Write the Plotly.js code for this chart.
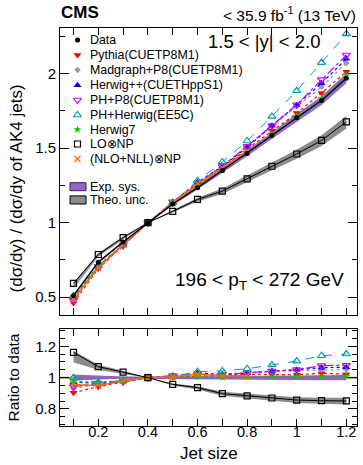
<!DOCTYPE html>
<html>
<head>
<meta charset="utf-8">
<script src="https://cdn.plot.ly/plotly-3.0.1.min.js"></script>
<style>html,body{margin:0;padding:0;background:#fff;}</style>
</head>
<body>
<div id="chart" style="width:363px;height:465px;"></div>
<script>
// ---------- data ----------
const jetSize = [0.1, 0.2, 0.3, 0.4, 0.5, 0.6, 0.7, 0.8, 0.9, 1.0, 1.1, 1.2];
const jetSizeNLO = [0.1, 0.2, 0.3, 0.4, 0.5, 0.6, 0.7, 0.8];
const dataVal = [0.51, 0.735, 0.87, 1.0, 1.125, 1.235, 1.35, 1.465, 1.585, 1.705, 1.82, 1.97];
const expSysRel = [0.02, 0.012, 0.007, 0.006, 0.008, 0.01, 0.012, 0.013, 0.014, 0.015, 0.016, 0.017];
// ratios to data
const ratioPythia = [0.904, 0.942, 0.972, 1.0, 1.005, 1.01, 1.017, 1.02, 1.02, 1.018, 1.028, 1.022];
const ratioMadgraph = [0.93, 0.96, 0.975, 1.0, 1.01, 1.02, 1.025, 1.03, 1.04, 1.045, 1.05, 1.052];
const ratioHerwigpp = [0.97, 0.965, 0.978, 1.0, 1.01, 1.03, 1.02, 1.028, 1.042, 1.05, 1.064, 1.066];
const ratioPHP8 = [0.942, 0.963, 0.974, 1.0, 1.013, 1.022, 1.021, 1.032, 1.042, 1.051, 1.077, 1.079];
const ratioPHHerwig = [1.0, 0.97, 0.979, 1.0, 1.009, 1.038, 1.043, 1.057, 1.081, 1.106, 1.14, 1.151];
const ratioHerwig7 = [0.975, 0.972, 0.98, 1.0, 1.003, 1.01, 1.002, 1.005, 1.006, 1.006, 1.007, 1.008];
const ratioLO = [1.162, 1.07, 1.035, 1.0, 0.957, 0.936, 0.898, 0.883, 0.87, 0.857, 0.853, 0.851];
const theoUpRel = [0.008, 0.012, 0.008, 0.0, 0.006, 0.01, 0.014, 0.016, 0.018, 0.02, 0.022, 0.024];
const theoDownRel = [0.055, 0.02, 0.012, 0.0, 0.008, 0.012, 0.016, 0.018, 0.02, 0.022, 0.024, 0.026];
const ratioNLO = [0.957, 0.949, 0.979, 1.0, 1.006, 1.021, 1.012, 1.012];

const legendNames = ["Data", "Pythia(CUETP8M1)", "Madgraph+P8(CUETP8M1)", "Herwig++(CUETHppS1)",
  "PH+P8(CUETP8M1)", "PH+Herwig(EE5C)", "Herwig7", "LO\u2297NP", "(NLO+NLL)\u2297NP"];
const bandNames = ["Exp. sys.", "Theo. unc."];

// ---------- styles ----------
const FONT = "Liberation Sans, Arial, Helvetica, sans-serif";
const styles = [
  {color: "#000000", symbol: "circle", size: 5, dash: "solid", width: 1.2},
  {color: "#ff0000", symbol: "triangle-down", size: 7, dash: "dot", width: 1.2},
  {color: "#9a9a9a", symbol: "diamond", size: 5, dash: "dot", width: 1.2},
  {color: "#0000ff", symbol: "triangle-up", size: 7, dash: "dot", width: 1.2},
  {color: "#cc00ff", symbol: "triangle-down-open", size: 7, dash: "dashdot", width: 1.2},
  {color: "#00a0a0", symbol: "triangle-up-open", size: 7, dash: "dash", width: 1},
  {color: "#00cc00", symbol: "star", size: 6, dash: "dot", width: 1.2},
  {color: "#000000", symbol: "square-open", size: 6, dash: "solid", width: 1},
  {color: "#ff6a00", symbol: "x-thin-open", size: 6, dash: "solid", width: 1.5}
];
const expFill = "rgba(140,95,195,0.95)";
const theoFill = "rgba(120,120,120,0.85)";

const mul = (a, b) => a.map((v, i) => v * b[i]);
const band = (x, lo, hi) => ({x: x.concat(x.slice().reverse()), y: hi.concat(lo.slice().reverse())});

const traces = [];
// top panel bands
const expB = band(jetSize, dataVal.map((v, i) => v * (1 - expSysRel[i])), dataVal.map((v, i) => v * (1 + expSysRel[i])));
traces.push({x: expB.x, y: expB.y, xaxis: "x", yaxis: "y", mode: "lines", fill: "toself", fillcolor: expFill, line: {width: 0}, hoverinfo: "skip", showlegend: false});
const loVal = mul(dataVal, ratioLO);
const theoB = band(jetSize, loVal.map((v, i) => v * (1 - theoDownRel[i])), loVal.map((v, i) => v * (1 + theoUpRel[i])));
traces.push({x: theoB.x, y: theoB.y, xaxis: "x", yaxis: "y", mode: "lines", fill: "toself", fillcolor: theoFill, line: {width: 0}, hoverinfo: "skip", showlegend: false});
// ratio panel bands
const expR = band(jetSize, expSysRel.map(e => 1 - e), expSysRel.map(e => 1 + e));
traces.push({x: expR.x, y: expR.y, xaxis: "x2", yaxis: "y2", mode: "lines", fill: "toself", fillcolor: expFill, line: {width: 0}, hoverinfo: "skip", showlegend: false});
const theoR = band(jetSize, ratioLO.map((v, i) => v * (1 - theoDownRel[i])), ratioLO.map((v, i) => v * (1 + theoUpRel[i])));
traces.push({x: theoR.x, y: theoR.y, xaxis: "x2", yaxis: "y2", mode: "lines", fill: "toself", fillcolor: theoFill, line: {width: 0}, hoverinfo: "skip", showlegend: false});

function series(idx, xs, ratio) {
  const s = styles[idx];
  const open = s.symbol.indexOf("open") >= 0;
  const mk = {symbol: s.symbol, size: s.size, color: s.color, line: {color: s.color, width: open ? 1.2 : 0}};
  const topY = ratio ? mul(dataVal.slice(0, xs.length), ratio) : dataVal;
  traces.push({x: xs, y: topY, xaxis: "x", yaxis: "y", mode: "lines+markers", name: legendNames[idx],
    line: {color: s.color, dash: s.dash, width: s.width}, marker: mk, showlegend: false});
  if (ratio) {
    traces.push({x: xs, y: ratio, xaxis: "x2", yaxis: "y2", mode: "lines+markers", name: legendNames[idx],
      line: {color: s.color, dash: s.dash, width: s.width}, marker: mk, showlegend: false});
  }
}
series(1, jetSize, ratioPythia);
series(2, jetSize, ratioMadgraph);
series(3, jetSize, ratioHerwigpp);
series(4, jetSize, ratioPHP8);
series(6, jetSize, ratioHerwig7);
series(5, jetSize, ratioPHHerwig);
series(8, jetSizeNLO, ratioNLO);
series(7, jetSize, ratioLO);
series(0, jetSize, null);

// ---------- manual legend (overlay axes in pixel units) ----------
const legRowY = [40, 55, 70, 85.3, 100, 115, 129.5, 144, 159];
const legMarkX = 77.5, legTextX = 88;
legendNames.forEach((n, i) => {
  const s = styles[i];
  const open = s.symbol.indexOf("open") >= 0;
  traces.push({x: [legMarkX], y: [legRowY[i]], xaxis: "x3", yaxis: "y3", mode: "markers", hoverinfo: "skip", showlegend: false,
    marker: {symbol: s.symbol, size: s.size, color: s.color, line: {color: s.color, width: open ? 1.2 : 0}}});
});

const annotations = [];
legendNames.forEach((n, i) => {
  annotations.push({xref: "x3", yref: "y3", x: legTextX, y: legRowY[i], xanchor: "left", yanchor: "middle",
    text: n, showarrow: false, font: {family: FONT, size: 12.4, color: "#000"}});
});
const bandRowY = [186.7, 199.9];
bandNames.forEach((n, i) => {
  annotations.push({xref: "x3", yref: "y3", x: legTextX, y: bandRowY[i], xanchor: "left", yanchor: "middle",
    text: n, showarrow: false, font: {family: FONT, size: 12.4, color: "#000"}});
});
annotations.push(
  {xref: "paper", yref: "paper", x: -0.003, y: 1.0397, xanchor: "left", yanchor: "middle", showarrow: false,
    text: "<b>CMS</b>", font: {family: FONT, size: 17, color: "#000"}},
  {xref: "paper", yref: "paper", x: 1.004, y: 1.035, xanchor: "right", yanchor: "middle", showarrow: false,
    text: "&lt; 35.9 fb<sup>-1</sup> (13 TeV)", font: {family: FONT, size: 15.5, color: "#000"}},
  {xref: "x3", yref: "y3", x: 263.5, y: 41.8, xanchor: "center", yanchor: "middle", showarrow: false,
    text: "1.5 &lt; |y| &lt; 2.0", font: {family: FONT, size: 18.5, color: "#000"}},
  {xref: "x3", yref: "y3", x: 259, y: 280.5, xanchor: "center", yanchor: "middle", showarrow: false,
    text: "196 &lt; p<sub>T</sub> &lt; 272 GeV", font: {family: FONT, size: 19, color: "#000"}},
  {xref: "paper", yref: "paper", x: -0.145, y: 0.5967, xanchor: "center", yanchor: "middle", showarrow: false, textangle: -90,
    text: "(d\u03c3/dy) / (d\u03c3/dy of AK4 jets)", font: {family: FONT, size: 17, color: "#000"}},
  {xref: "paper", yref: "paper", x: -0.155, y: 0.1219, xanchor: "center", yanchor: "middle", showarrow: false, textangle: -90,
    text: "Ratio to data", font: {family: FONT, size: 15.5, color: "#000"}},
  {xref: "paper", yref: "paper", x: 0.5, y: -0.068, xanchor: "center", yanchor: "middle", showarrow: false,
    text: "Jet size", font: {family: FONT, size: 17, color: "#000"}}
);

const shapes = [
  {type: "rect", xref: "x3", yref: "y3", x0: 70, x1: 86, y0: 182.7, y1: 190.7, fillcolor: expFill, line: {color: "#3a1a5a", width: 1}},
  {type: "rect", xref: "x3", yref: "y3", x0: 70, x1: 86, y0: 195.9, y1: 204, fillcolor: theoFill, line: {color: "#000", width: 1}},
  {type: "line", xref: "x2 domain", yref: "y2", x0: 0, x1: 1, y0: 1, y1: 1, line: {color: "#a09c2a", width: 2}, layer: "below"}
];

const axisCommon = {showline: true, linecolor: "#000", linewidth: 1, mirror: "ticks", ticks: "inside", tickcolor: "#000",
  showgrid: false, zeroline: false, tickfont: {family: FONT, size: 15, color: "#000"}};

const layout = {
  width: 363, height: 465,
  margin: {l: 60, r: 6, t: 28, b: 39},
  paper_bgcolor: "#fff", plot_bgcolor: "#fff",
  showlegend: false,
  font: {family: FONT, color: "#000"},
  xaxis: Object.assign({}, axisCommon, {domain: [0, 1], anchor: "y", range: [0.0456, 1.243], autorange: false,
    tick0: 0, dtick: 0.2, ticklen: 7, showticklabels: false,
    minor: {dtick: 0.1, ticks: "inside", ticklen: 7, tickcolor: "#000", showgrid: false}}),
  yaxis: Object.assign({}, axisCommon, {domain: [0.2789, 1], anchor: "x", range: [0.3805, 2.307], autorange: false,
    tick0: 0, dtick: 0.5, ticklen: 9,
    minor: {dtick: 0.25, ticks: "inside", ticklen: 5, tickcolor: "#000", showgrid: false}}),
  xaxis2: Object.assign({}, axisCommon, {domain: [0, 1], anchor: "y2", range: [0.0456, 1.243], autorange: false,
    tick0: 0, dtick: 0.2, ticklen: 7, ticklabelstandoff: -7, tickfont: {family: FONT, size: 14.5, color: "#000"},
    minor: {dtick: 0.1, ticks: "inside", ticklen: 7, tickcolor: "#000", showgrid: false}}),
  yaxis2: Object.assign({}, axisCommon, {domain: [0, 0.243], anchor: "x2", range: [0.691, 1.309], autorange: false,
    tick0: 0, dtick: 0.2, ticklen: 9,
    minor: {dtick: 0.05, ticks: "inside", ticklen: 5, tickcolor: "#000", showgrid: false}}),
  xaxis3: {overlaying: "x", anchor: "y3", range: [60, 357], autorange: false, visible: false, fixedrange: true},
  yaxis3: {overlaying: "y", anchor: "x3", range: [315, 28], autorange: false, visible: false, fixedrange: true},
  annotations: annotations,
  shapes: shapes
};

Plotly.newPlot("chart", traces, layout, {staticPlot: true, displayModeBar: false});
</script>
</body>
</html>
